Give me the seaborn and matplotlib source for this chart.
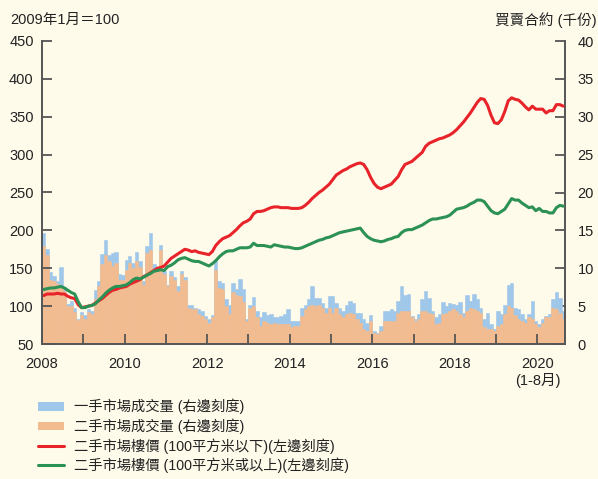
import numpy as np
import pandas as pd
import matplotlib
matplotlib.use("Agg")
import matplotlib.pyplot as plt
import seaborn as sns
from matplotlib.patches import Patch
from matplotlib.lines import Line2D

# ---------------- data (monthly, Jan 2008 - Aug 2020) ----------------
tick_labels = ["2008", "", "2010", "", "2012", "", "2014", "", "2016", "", "2018", "", "2020\n(1-8月)"]

# total transactions (primary + secondary), thousand contracts
total_k = [
    14.7, 12.6, 9.5, 9.0, 8.3, 10.2, 7.5, 5.3, 5.7, 4.8, 3.3, 4.2,
    3.8, 4.6, 4.4, 7.1, 8.3, 11.9, 13.7, 11.8, 12.0, 12.2, 9.2, 9.1,
    11.1, 11.6, 10.7, 12.1, 10.9, 8.3, 12.9, 14.6, 10.5, 10.2, 13.1, 9.6,
    7.8, 9.6, 8.9, 7.6, 9.6, 8.9, 5.2, 5.2, 4.8, 4.6, 4.4, 3.7,
    3.3, 3.8, 11.1, 8.3, 8.1, 5.9, 5.2, 8.0, 7.2, 8.6, 7.2, 3.3,
    5.2, 6.2, 4.4, 3.5, 4.2, 3.8, 3.9, 3.5, 3.6, 3.7, 3.9, 4.6,
    3.0, 3.0, 3.0, 4.7, 5.2, 5.9, 7.7, 6.1, 6.1, 5.4, 4.7, 6.3,
    6.3, 5.4, 4.8, 4.4, 5.2, 5.7, 5.4, 4.1, 4.1, 3.3, 2.8, 3.8,
    1.7, 1.5, 2.4, 4.4, 4.4, 4.6, 4.4, 5.7, 7.7, 6.5, 6.6, 3.7,
    3.3, 3.9, 5.9, 7.0, 6.1, 4.4, 3.5, 3.9, 5.5, 5.0, 5.4, 5.3,
    5.2, 5.5, 4.1, 6.5, 5.7, 6.6, 5.9, 4.7, 3.3, 4.1, 2.6, 2.0,
    4.4, 3.9, 5.2, 7.8, 8.1, 4.7, 4.6, 3.9, 3.3, 3.9, 5.7, 3.1,
    2.7, 3.3, 3.7, 4.0, 5.9, 6.9, 6.1, 4.4,
]

# secondary-market transactions, thousand contracts
secondary_k = [
    13.0, 11.8, 8.5, 8.3, 7.9, 7.7, 7.0, 5.0, 5.0, 4.2, 3.2, 3.8,
    3.3, 4.2, 4.0, 5.9, 7.7, 10.5, 11.8, 11.0, 10.3, 10.7, 8.5, 8.4,
    9.8, 10.7, 10.0, 10.9, 10.2, 7.8, 12.0, 12.4, 9.8, 9.8, 12.4, 9.2,
    7.6, 9.0, 8.5, 7.0, 9.2, 8.5, 4.8, 4.6, 4.6, 3.9, 3.7, 3.3,
    2.8, 3.5, 9.8, 7.4, 7.2, 5.0, 3.9, 6.8, 6.5, 6.3, 5.5, 3.1,
    4.8, 5.0, 3.5, 2.4, 3.1, 2.8, 2.6, 2.8, 2.6, 2.6, 2.6, 2.6,
    2.2, 2.4, 2.4, 3.7, 4.6, 5.0, 5.2, 5.0, 5.2, 4.8, 4.1, 4.8,
    4.1, 4.7, 3.9, 3.5, 3.9, 4.1, 3.9, 3.3, 2.8, 2.0, 1.7, 3.0,
    1.5, 1.3, 1.7, 3.0, 3.0, 3.0, 3.0, 4.1, 4.4, 4.4, 4.4, 3.5,
    3.0, 3.3, 4.4, 4.4, 4.1, 3.9, 2.6, 2.8, 3.9, 4.1, 4.4, 4.6,
    4.4, 4.0, 3.5, 4.4, 4.7, 4.6, 4.4, 4.1, 2.2, 2.0, 2.0, 1.7,
    2.4, 2.6, 3.9, 5.0, 4.8, 3.8, 3.3, 3.0, 2.8, 3.5, 3.3, 2.6,
    2.2, 2.8, 3.5, 3.5, 4.8, 4.6, 4.1, 3.3,
]

# secondary-market price index, Jan 2009 = 100
price_small = [
    114, 116, 116, 116, 117, 116, 116, 113, 111, 110, 102, 98,
    99, 100, 101, 104, 107, 110, 114, 118, 121, 122, 124, 125,
    126, 129, 131, 133, 135, 139, 141, 144, 147, 150, 151, 153,
    158, 163, 166, 169, 172, 175, 174, 172, 173, 171, 170, 169,
    168, 172, 180, 185, 189, 191, 193, 197, 201, 206, 210, 212,
    215, 222, 225, 225, 226, 228, 230, 231, 231, 230, 230, 230,
    229, 229, 229, 230, 233, 237, 242, 246, 250, 253, 257, 261,
    267, 273, 276, 279, 281, 284, 286, 288, 289, 287, 280, 270,
    262, 257, 255, 257, 259, 261, 266, 271, 280, 287, 289, 291,
    295, 299, 303, 311, 315, 317, 319, 321, 322, 324, 326, 329,
    333, 338, 343, 349, 355, 362, 369, 374, 373, 365, 352, 342,
    341, 346, 357, 371, 375, 373, 372, 368, 363, 359, 364, 360,
    360, 360, 355, 358, 358, 366, 366, 364,
]
price_large = [
    122, 123, 124, 124, 125, 126, 124, 121, 118, 116, 106, 98,
    98, 100, 101, 103, 108, 112, 117, 121, 124, 126, 126, 127,
    128, 131, 135, 137, 136, 138, 141, 143, 146, 147, 148, 147,
    152, 154, 157, 161, 163, 164, 162, 160, 159, 159, 157, 155,
    153, 156, 160, 165, 169, 172, 173, 173, 175, 177, 177, 177,
    178, 183, 180, 180, 180, 179, 178, 181, 180, 179, 178, 178,
    177, 176, 176, 177, 179, 181, 183, 185, 187, 188, 190, 191,
    193, 195, 197, 198, 199, 200, 201, 202, 203, 197, 192, 189,
    187, 186, 185, 186, 188, 189, 191, 192, 197, 200, 201, 201,
    203, 205, 207, 210, 213, 215, 215, 216, 217, 218, 220, 224,
    228, 229, 230, 232, 235, 237, 240, 240, 238, 232, 226, 223,
    222, 225, 228, 235, 242, 240, 240, 236, 233, 230, 231, 226,
    229, 225, 225, 223, 223, 230, 233, 232,
]

n = len(price_small)
month_pos = np.arange(n) + 0.5
df = pd.DataFrame({
    "pos": month_pos,
    "total": total_k,
    "secondary": secondary_k,
    "small": price_small,
    "large": price_large,
})

# ---------------- style ----------------
BG = "#FFFBEB"
BLUE = "#9FC7EA"
ORANGE = "#F3BC90"
RED = "#E8232A"
GREEN = "#2B9155"
SPINE = "#555555"
TXT = "#222222"

sns.set_theme(style="white")
plt.rcParams["font.family"] = ["Liberation Sans", "Noto Sans CJK TC", "DejaVu Sans"]
plt.rcParams["axes.unicode_minus"] = False

fig = plt.figure(figsize=(5.98, 4.79), dpi=100, facecolor=BG)
ax = fig.add_axes([42 / 598, 1 - 344 / 479, 523 / 598, 303 / 479])
ax2 = ax.twinx()
ax.set_zorder(ax2.get_zorder() + 1)
ax.patch.set_visible(False)
ax2.patch.set_facecolor(BG)

# bars (right scale)
sns.barplot(data=df, x="pos", y="total", native_scale=True, width=1.0,
            color=BLUE, saturation=1, linewidth=0.4, edgecolor=BLUE,
            errorbar=None, ax=ax2)
sns.barplot(data=df, x="pos", y="secondary", native_scale=True, width=1.0,
            color=ORANGE, saturation=1, linewidth=0.4, edgecolor=ORANGE,
            errorbar=None, ax=ax2)

# lines (left scale)
sns.lineplot(data=df, x="pos", y="small", color=RED, linewidth=2.2, ax=ax)
sns.lineplot(data=df, x="pos", y="large", color=GREEN, linewidth=2.2, ax=ax)

ax.set_xlim(0, n)
ax2.set_xlim(0, n)
ax.set_ylim(50, 450)
ax2.set_ylim(0, 40)
ax.set_yticks(np.arange(50, 451, 50))
ax2.set_yticks(np.arange(0, 41, 5))
ax.set_xticks(np.arange(0, n, 12))
ax.set_xticklabels(tick_labels)
for a in (ax, ax2):
    a.set_xlabel("")
    a.set_ylabel("")
    a.grid(False)
    for s in a.spines.values():
        s.set_visible(False)

ax.spines["left"].set_visible(True)
ax.spines["bottom"].set_visible(True)
ax2.spines["right"].set_visible(True)
for s in (ax.spines["left"], ax.spines["bottom"], ax2.spines["right"]):
    s.set_color(SPINE)
    s.set_linewidth(1.4)

ax.tick_params(axis="y", direction="in", length=7, width=1.3, color=SPINE,
               labelsize=10.5, labelcolor=TXT, pad=6, left=True, right=False)
ax.tick_params(axis="x", direction="in", length=7, width=1.3, color=SPINE,
               labelsize=10.5, labelcolor=TXT, pad=9, bottom=True)
ax2.tick_params(axis="y", direction="in", length=7, width=1.3, color=SPINE,
                labelsize=10.5, labelcolor=TXT, pad=9, right=True, left=False)
ax2.tick_params(axis="x", bottom=False, labelbottom=False)

fig.text(10 / 598, 1 - 20 / 479, "2009年1月＝100", fontsize=10.5, color=TXT,
         ha="left", va="center")
fig.text(597 / 598, 1 - 20 / 479, "買賣合約 (千份)", fontsize=10.5, color=TXT,
         ha="right", va="center")

handles = [
    Patch(facecolor=BLUE, edgecolor="none"),
    Patch(facecolor=ORANGE, edgecolor="none"),
    Line2D([], [], color=RED, linewidth=2.2),
    Line2D([], [], color=GREEN, linewidth=2.2),
]
labels = [
    "一手市場成交量 (右邊刻度)",
    "二手市場成交量 (右邊刻度)",
    "二手市場樓價 (100平方米以下)(左邊刻度)",
    "二手市場樓價 (100平方米或以上)(左邊刻度)",
]
fig.legend(handles, labels, loc="upper left", bbox_to_anchor=(38 / 598, 1 - 399 / 479),
           frameon=False, fontsize=10.3, handlelength=1.8, handleheight=0.55,
           handletextpad=0.7, labelspacing=0.28, borderpad=0, borderaxespad=0,
           labelcolor=TXT)

fig.savefig("out.png", dpi=100, facecolor=BG)
